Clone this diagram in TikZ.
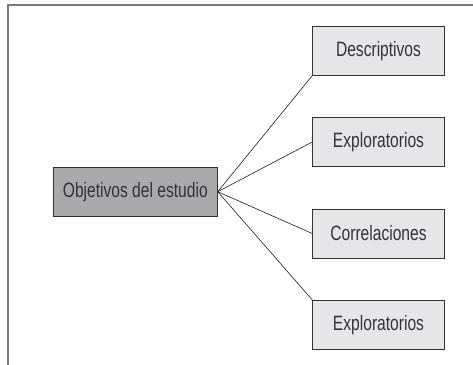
\documentclass[tikz,border=0pt]{standalone}
\usepackage{fontspec}
\setmainfont{Liberation Sans}[FakeStretch=0.75]
\usepackage{tikz}

\definecolor{boxdark}{HTML}{A9A9AB}
\definecolor{boxlight}{HTML}{E6E6E8}
\definecolor{inkgray}{HTML}{333333}
\definecolor{framegray}{HTML}{7A7A7A}

\begin{document}
\begin{tikzpicture}[x=1pt,y=1pt,
    obj/.style={draw=inkgray,line width=0.9pt,fill=boxdark,minimum width=164pt,minimum height=48.7pt,inner sep=0pt,text=inkgray,font=\fontsize{20.8}{23}\selectfont},
    tipo/.style={draw=inkgray,line width=0.9pt,fill=boxlight,minimum width=131.7pt,minimum height=49pt,inner sep=0pt,text=inkgray,font=\fontsize{20.8}{23}\selectfont},
    rama/.style={draw=inkgray,line width=0.7pt}]
    \useasboundingbox (0,0) rectangle (473,364);
    \begin{scope}
      \clip (0,0) rectangle (473,364);
      \draw [framegray,line width=1.8pt] (8,-10) -- (8,359) -- (490,359);
    \end{scope}
    \node[obj] (a) at (135.3, 172.3) {Objetivos del estudio};
    \node[tipo] (b) at (378.5, 313.2) {Descriptivos};
    \node[tipo] (c) at (378.5, 222) {Exploratorios};
    \node[tipo] (d) at (378.5, 130.5) {Correlaciones};
    \node[tipo] (e) at (378.5, 39.2) {Exploratorios};
    \draw [rama] (a.east) to (b.south west);
    \draw [rama] (a.east) to (c.west);
    \draw [rama] (a.east) to (d.west);
    \draw [rama] (a.east) to (e.north west);
  \end{tikzpicture}
\end{document}
